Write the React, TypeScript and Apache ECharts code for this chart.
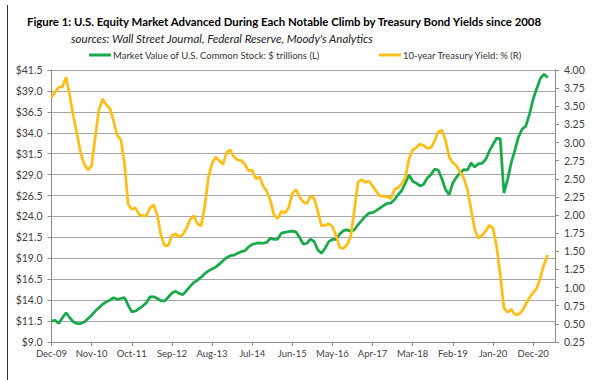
import React, { useEffect, useRef } from "react";
import * as echarts from "echarts";

const MONTHS = ["Jan", "Feb", "Mar", "Apr", "May", "Jun", "Jul", "Aug", "Sep", "Oct", "Nov", "Dec"];
// axis runs Dec-09 .. Jun-21 (monthly)
const categories: string[] = [];
for (let i = 0; i < 139; i++) {
  const m = (11 + i) % 12;
  const y = 9 + Math.floor((11 + i) / 12);
  categories.push(MONTHS[m] + "-" + String(y).padStart(2, "0"));
}
const LABEL_EVERY = 11;

const marketValue = [
  11.5, 11.6, 11.2, 11.9, 12.5, 11.9, 11.4, 11.2, 11.2, 11.4, 11.8, 12.2, 12.7, 13.1, 13.5, 13.8, 14.0, 14.3, 14.1, 14.2,
  14.3, 13.4, 12.6, 12.7, 13.0, 13.3, 13.7, 14.4, 14.4, 14.2, 13.9, 13.9, 14.35, 14.85, 15.05, 14.8, 14.65, 15.15, 15.65, 16.1,
  16.4, 16.75, 17.15, 17.5, 17.72, 17.95, 18.3, 18.7, 19.08, 19.31, 19.37, 19.6, 19.79, 19.9, 20.35, 20.67, 20.77, 20.85, 20.8, 20.9,
  21.4, 21.25, 21.3, 22.0, 22.1, 22.2, 22.25, 22.15, 21.5, 20.7, 20.8, 21.3, 21.0, 20.0, 19.6, 20.2, 21.0, 21.27, 21.27, 21.9,
  22.3, 22.4, 22.25, 22.38, 23.0, 23.5, 24.0, 24.4, 24.45, 24.7, 25.0, 25.3, 25.55, 25.6, 26.0, 26.6, 27.1, 28.0, 28.95, 28.2,
  27.98, 27.65, 27.85, 28.6, 29.0, 29.65, 29.55, 28.5, 27.2, 26.6, 28.0, 28.7, 29.2, 29.6, 29.55, 30.4, 29.9, 30.3, 30.35, 30.8,
  31.8, 32.6, 33.34, 33.3, 26.8, 28.4, 30.4, 31.9, 33.5, 34.45, 34.8, 36.2, 38.0, 39.3, 40.5, 41.0, 40.6,
];

const treasuryYield = [
  3.62, 3.7, 3.76, 3.77, 3.9, 3.65, 3.36, 3.12, 2.85, 2.7, 2.62, 2.68, 3.08, 3.45, 3.6, 3.52, 3.47, 3.3, 3.1, 3.04,
  2.72, 2.15, 2.08, 2.1, 2.01, 1.99, 1.99, 2.1, 2.14, 2.0, 1.72, 1.58, 1.58, 1.72, 1.74, 1.7, 1.73, 1.82, 1.94, 1.99,
  1.88, 1.85, 2.12, 2.52, 2.71, 2.8, 2.75, 2.7, 2.86, 2.9, 2.8, 2.76, 2.75, 2.7, 2.61, 2.62, 2.5, 2.53, 2.4, 2.33,
  2.2, 2.0, 1.95, 2.05, 2.03, 2.1, 2.3, 2.35, 2.25, 2.18, 2.16, 2.26, 2.23, 2.05, 1.85, 1.86, 1.88, 1.84, 1.72, 1.55,
  1.54, 1.59, 1.7, 2.06, 2.45, 2.49, 2.45, 2.47, 2.4, 2.33, 2.26, 2.26, 2.25, 2.23, 2.35, 2.38, 2.43, 2.52, 2.78, 2.9,
  2.93, 2.98, 2.96, 2.92, 2.93, 3.02, 3.15, 3.17, 3.03, 2.8, 2.72, 2.68, 2.59, 2.51, 2.35, 2.08, 1.8, 1.68, 1.72, 1.78,
  1.86, 1.82, 1.57, 1.17, 0.72, 0.66, 0.7, 0.63, 0.63, 0.68, 0.77, 0.86, 0.93, 0.99, 1.14, 1.32, 1.45,
];

const TITLE = "Figure 1: U.S. Equity Market Advanced During Each Notable Climb by Treasury Bond Yields since 2008";
const SUBTITLE = "sources: Wall Street Journal, Federal Reserve, Moody's Analytics";
const SERIES_NAMES = ["Market Value of U.S. Common Stock: $ trillions (L)", "10-year Treasury Yield: % (R)"];

const FONT = "Lato, 'Open Sans', sans-serif";

export default function App() {
  const ref = useRef<HTMLDivElement>(null);
  useEffect(() => {
    if (!ref.current) return;
    const chart = echarts.init(ref.current, null, { renderer: "svg" });
    const showIdx = (idx: number) => idx % LABEL_EVERY === 0;
    const legendBase = {
      top: 45,
      itemWidth: 22,
      itemHeight: 3,
      icon: "rect",
      textStyle: { fontFamily: FONT, fontSize: 9.5, color: "#333333", padding: [0, 0, 0, -3] },
    };
    chart.setOption({
      animation: false,
      backgroundColor: "#ffffff",
      title: [
        {
          text: TITLE,
          left: 22,
          top: 11,
          textStyle: { fontFamily: FONT, fontWeight: "bold", fontSize: 11.4, color: "#000000" },
        },
        {
          text: SUBTITLE,
          left: 66,
          top: 27,
          textStyle: { fontFamily: FONT, fontStyle: "italic", fontWeight: "normal", fontSize: 11.5, color: "#222222" },
        },
      ],
      legend: [
        { ...legendBase, left: 84, data: [SERIES_NAMES[0]] },
        { ...legendBase, left: 374, data: [SERIES_NAMES[1]] },
      ],
      grid: { left: 51.5, right: 55, top: 70, bottom: 38, containLabel: false },
      xAxis: {
        type: "category",
        data: categories,
        boundaryGap: false,
        axisLine: { lineStyle: { color: "#8c8c8c", width: 1 } },
        axisTick: { interval: showIdx, length: 4, lineStyle: { color: "#8c8c8c" } },
        axisLabel: {
          interval: showIdx,
          fontFamily: FONT,
          fontSize: 9.5,
          color: "#404040",
          margin: 6,
        },
        splitLine: { show: false },
      },
      yAxis: [
        {
          type: "value",
          min: 9,
          max: 41.5,
          interval: 2.5,
          axisLine: { show: true, lineStyle: { color: "#8c8c8c" } },
          axisTick: { show: true, length: 4, lineStyle: { color: "#8c8c8c" } },
          axisLabel: {
            formatter: (v: number) => "$" + v.toFixed(1),
            fontFamily: FONT,
            fontSize: 10.5,
            color: "#404040",
            margin: 9,
          },
          splitLine: { show: true, lineStyle: { color: "#a6a6a6", width: 1 } },
        },
        {
          type: "value",
          min: 0.25,
          max: 4,
          interval: 0.25,
          position: "right",
          axisLine: { show: true, lineStyle: { color: "#8c8c8c" } },
          axisTick: { show: true, length: 4, lineStyle: { color: "#8c8c8c" } },
          axisLabel: {
            formatter: (v: number) => v.toFixed(2),
            fontFamily: FONT,
            fontSize: 10.5,
            color: "#404040",
            margin: 9,
          },
          splitLine: { show: false },
        },
      ],
      series: [
        {
          name: SERIES_NAMES[0],
          type: "line",
          data: marketValue,
          yAxisIndex: 0,
          showSymbol: false,
          symbol: "none",
          lineStyle: { color: "#19a84a", width: 2.75 },
          itemStyle: { color: "#19a84a" },
        },
        {
          name: SERIES_NAMES[1],
          type: "line",
          data: treasuryYield,
          yAxisIndex: 1,
          showSymbol: false,
          symbol: "none",
          lineStyle: { color: "#fdbf17", width: 2.75 },
          itemStyle: { color: "#fdbf17" },
        },
      ],
      graphic: [
        {
          type: "line",
          shape: { x1: 7.5, y1: 5, x2: 7.5, y2: 380 },
          style: { stroke: "#333333", lineWidth: 1 },
        },
      ],
    });
    return () => chart.dispose();
  }, []);
  return <div ref={ref} style={{ position: "fixed", left: 0, top: 0, width: 610, height: 380 }} />;
}
